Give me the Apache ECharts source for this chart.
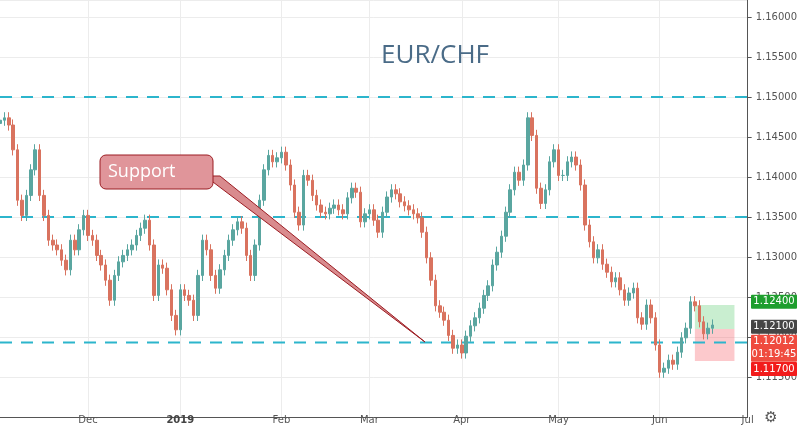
<!DOCTYPE html>
<html><head><meta charset="utf-8">
<script src="https://cdn.jsdelivr.net/npm/echarts@6/dist/echarts.min.js"></script>
<style>html,body{margin:0;background:#fff}#c{width:800px;height:430px}</style>
</head><body><div id="c"></div>
<script>
// trading days (weekdays) from 2018-11-05 through 2019-07-01
const firstDay = '2018-11-05';
const lastDay = '2019-07-01';
const closes = [1.1471,1.1474,1.1465,1.1434,1.1371,1.1352,1.1377,1.1409,1.1434,1.1377,1.1352,1.1321,1.1315,1.1309,1.1296,1.1284,1.1321,1.1309,1.1334,1.1352,1.1327,1.1321,1.1302,1.1290,1.1271,1.1246,1.1277,1.1294,1.1302,1.1309,1.1315,1.1327,1.1336,1.1346,1.1315,1.1252,1.1290,1.1286,1.1259,1.1227,1.1209,1.1259,1.1252,1.1246,1.1227,1.1277,1.1321,1.1309,1.1277,1.1261,1.1284,1.1302,1.1321,1.1334,1.1344,1.1336,1.1302,1.1277,1.1315,1.1371,1.1409,1.1427,1.1419,1.1424,1.1431,1.1415,1.1390,1.1356,1.1340,1.1402,1.1396,1.1377,1.1365,1.1356,1.1354,1.1361,1.1365,1.1359,1.1354,1.1374,1.1386,1.1381,1.1344,1.1354,1.1359,1.1346,1.1331,1.1356,1.1375,1.1384,1.1379,1.1369,1.1364,1.1359,1.1354,1.1349,1.1331,1.1299,1.1271,1.1239,1.1231,1.1221,1.1202,1.1186,1.1190,1.1180,1.1201,1.1214,1.1224,1.1236,1.1252,1.1264,1.1290,1.1306,1.1326,1.1356,1.1384,1.1406,1.1396,1.1415,1.1474,1.1452,1.1386,1.1367,1.1384,1.1419,1.1434,1.1402,1.1402,1.1419,1.1425,1.1415,1.1390,1.1340,1.1319,1.1299,1.1309,1.1291,1.1281,1.1269,1.1274,1.1259,1.1246,1.1255,1.1261,1.1224,1.1216,1.1240,1.1224,1.1190,1.1156,1.1161,1.1171,1.1166,1.1181,1.1199,1.1211,1.1244,1.1239,1.1219,1.1204,1.1211,1.1215];
const levels = [1.15, 1.135, 1.1193];
const priceTags = [
  {at:1.1244, text:'1.12400', color:'#1e9e2e'},
  {at:1.1213, text:'1.12100', color:'#454545'},
  {at:1.1194, text:'1.12012', color:'#ef4b3f'},
  {at:1.1178, text:'01:19:45', color:'#ef4b3f'},
  {at:1.1160, text:'1.11700', color:'#f21c1c'}
];
const monthNames = ['Jan','Feb','Mar','Apr','May','Jun','Jul','Aug','Sep','Oct','Nov','Dec'];

const DAY = 86400000;
const days = [];
for (let t = Date.parse(firstDay+'T00:00:00Z'); t <= Date.parse(lastDay+'T00:00:00Z'); t += DAY) {
  const d = new Date(t).getUTCDay();
  if (d !== 0 && d !== 6) days.push(new Date(t).toISOString().slice(0,10));
}
const monthStart = days.map((s,i) => i > 0 && s.slice(5,7) !== days[i-1].slice(5,7));
const candles = closes.map((c, i) => {
  const o = i === 0 ? c - 0.0004 : closes[i-1];
  return [o, c, Math.min(o,c) - 0.0007, Math.max(o,c) + 0.0007];
});
const YMAX = 1.16213, PX = 8000;
const yPix = v => (YMAX - v) * PX;
const graphic = [];
priceTags.forEach(p => {
  graphic.push({type:'rect', z:100, shape:{x:751,y:yPix(p.at)-7,width:46,height:14,r:1}, style:{fill:p.color}});
  graphic.push({type:'text', z:101, style:{x:774,y:yPix(p.at),text:p.text,fill:'#fff',font:'10px "DejaVu Sans"',textAlign:'center',textVerticalAlign:'middle'}});
});
graphic.push({type:'polygon', z:100, shape:{points:[[205,176],[425,342],[220,176]]}, style:{fill:'#d98b8e',stroke:'#9b1c22',lineWidth:1}});
graphic.push({type:'rect', z:101, shape:{x:100,y:155,width:113,height:34,r:6}, style:{fill:'#e0959a',stroke:'#9b1c22',lineWidth:1}});
graphic.push({type:'text', z:102, style:{x:108,y:172,text:'Support',fill:'#fff',font:'18px "Open Sans"',textVerticalAlign:'middle'}});
graphic.push({type:'text', z:100, style:{x:771,y:418,text:'⚙',fill:'#555',font:'15px "DejaVu Sans"',textAlign:'center',textVerticalAlign:'middle'}});

const levelSeries = levels.map(v => ({
  type:'line', data:days.map(() => v), symbol:'none', silent:true, z:1,
  lineStyle:{color:'#2cb5cc', type:[12,9], width:2}
}));

const chart = echarts.init(document.getElementById('c'));
chart.setOption({
  animation:false,
  title:{text:'EUR/CHF', left:430, top:38, textAlign:'center', textStyle:{color:'#4a6b87', fontSize:26, fontWeight:'normal', fontFamily:'Open Sans'}},
  grid:{left:0, right:50, top:0, height:417},
  xAxis:{type:'category', data:days, boundaryGap:false,
    axisLine:{lineStyle:{color:'#555'}}, axisTick:{show:false},
    splitLine:{show:true, interval:(i) => monthStart[i], lineStyle:{color:'#ececec'}},
    axisLabel:{color:'#555', fontSize:10, fontFamily:'DejaVu Sans', margin:-2,
      interval:(i) => monthStart[i],
      formatter: s => { const m = +s.slice(5,7) - 1; return m === 0 ? '{b|' + s.slice(0,4) + '}' : monthNames[m]; },
      rich:{b:{fontWeight:'bold', fontSize:10, color:'#444'}}}},
  yAxis:{type:'value', position:'right', min:1.11, max:YMAX, interval:0.005,
    axisLine:{show:true, lineStyle:{color:'#555'}}, axisTick:{show:true, length:4},
    splitLine:{lineStyle:{color:'#ececec'}},
    axisLabel:{color:'#555', fontSize:10, fontFamily:'DejaVu Sans', formatter: v => v.toFixed(5), showMaxLabel:false, showMinLabel:false}},
  series:[...levelSeries, {
    type:'candlestick', data:candles, barWidth:3, z:3,
    itemStyle:{color:'#5aa6a0', color0:'#d9735f', borderColor:'#5aa6a0', borderColor0:'#d9735f'},
    markArea:{silent:true, data:[
      [{xAxis:days[158], yAxis:1.1240, itemStyle:{color:'rgba(76,200,100,0.3)'}},{xAxis:days[167], yAxis:1.1210}],
      [{xAxis:days[158], yAxis:1.1210, itemStyle:{color:'rgba(245,100,110,0.35)'}},{xAxis:days[167], yAxis:1.1170}]
    ]}
  }],
  graphic: graphic
});
</script></body></html>
